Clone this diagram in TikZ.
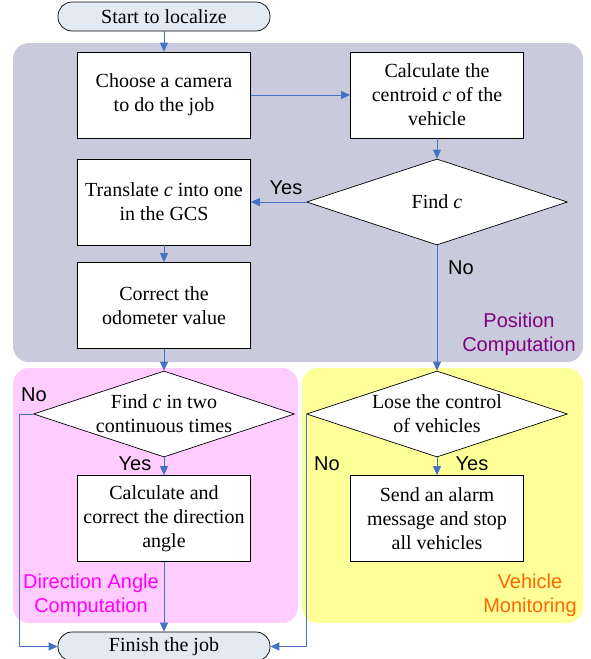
\documentclass[tikz,border=0pt]{standalone}
\usepackage{fontspec}
\setmainfont{Liberation Serif}
\setsansfont{Liberation Sans}
\usetikzlibrary{shapes.geometric,arrows.meta}
\definecolor{flowblue}{RGB}{68,114,196}
\definecolor{posfill}{RGB}{201,203,221}
\definecolor{dirfill}{RGB}{255,204,255}
\definecolor{monfill}{RGB}{255,255,153}
\definecolor{termfill}{RGB}{228,234,244}
\definecolor{poscol}{RGB}{128,0,128}
\definecolor{dircol}{RGB}{255,0,255}
\definecolor{moncol}{RGB}{255,102,0}
\begin{document}
\begin{tikzpicture}[x=1pt,y=-1pt,
    font=\fontsize{20}{24}\selectfont,
    box/.style={draw,fill=white,line width=0.7pt,minimum width=173pt,minimum height=86pt,align=center,inner sep=0pt},
    dia/.style={draw,fill=white,line width=0.7pt,diamond,minimum width=261pt,minimum height=86pt,inner sep=0pt},
    term/.style={draw,fill=termfill,line width=0.7pt,rounded corners=14pt,minimum width=212pt,minimum height=29pt,inner sep=0pt},
    arr/.style={draw=flowblue,line width=0.8pt,-{Triangle[length=9pt,width=8pt]}},
    lab/.style={font=\fontsize{20}{24}\sffamily\selectfont,inner sep=0pt,align=center}]
    \useasboundingbox (0,0) rectangle (590,659);

    % the three parts
    \fill[posfill,rounded corners=16pt] (13,43) rectangle (583,362);
    \fill[dirfill,rounded corners=16pt] (13,368) rectangle (298,623);
    \fill[monfill,rounded corners=16pt] (302,368) rectangle (583,623);

    \path (164,16.5) node[term] (start) {Start to localize};
    \path (164,95) node[box] (cam) {Choose a camera\\to do the job};
    \path (437,95) node[box] (cent) {Calculate the\\centroid \textit{c} of the\\vehicle};
    \path (437,202) node[dia,label={center:Find \textit{c}}] (findc) {};
    \path (164,202) node[box] (trans) {Translate \textit{c} into one\\in the GCS};
    \path (164,305.5) node[box] (odo) {Correct the\\odometer value};

    \path (164,414) node[dia,label={[align=center]center:Find \textit{c} in two\\continuous times}] (find2) {};
    \path (164,518.5) node[box] (dir) {Calculate and\\correct the direction\\angle};
    \path (437,414) node[dia,label={[align=center]center:Lose the control\\of vehicles}] (lose) {};
    \path (437,518.5) node[box] (alarm) {Send an alarm\\message and stop\\all vehicles};
    \path (164,646.5) node[term] (finish) {Finish the job};

    \path (286,188) node[lab] (yes1) {Yes};
    \path (461,268) node[lab] (no1) {No};
    \path (34,395) node[lab] (no2) {No};
    \path (135,464) node[lab] (yes2) {Yes};
    \path (327,464) node[lab] (no3) {No};
    \path (472,464) node[lab] (yes3) {Yes};

    \path (519,334) node[lab,text=poscol] (pos) {Position\\Computation};
    \path (91,595) node[lab,text=dircol] (dirc) {Direction Angle\\Computation};
    \path (530,595) node[lab,text=moncol] (mon) {Vehicle\\Monitoring};

    \coordinate (nleft) at (19,414);

    \draw[arr] (start) -- (cam);
    \draw[arr] (cam) -- (cent);
    \draw[arr] (cent) -- (findc);
    \draw[arr] (findc) -- (trans);
    \draw[arr] (trans) -- (odo);
    \draw[arr] (odo) -- (find2);
    \draw[arr] (findc) -- (lose);
    \draw[arr] (find2) -- (dir);
    \draw[arr] (dir) -- (finish);
    \draw[arr] (lose) -- (alarm);
    \draw[arr] (find2.west) -- (nleft) |- (finish);
    \draw[arr] (lose.west) |- (finish);
\end{tikzpicture}
\end{document}
